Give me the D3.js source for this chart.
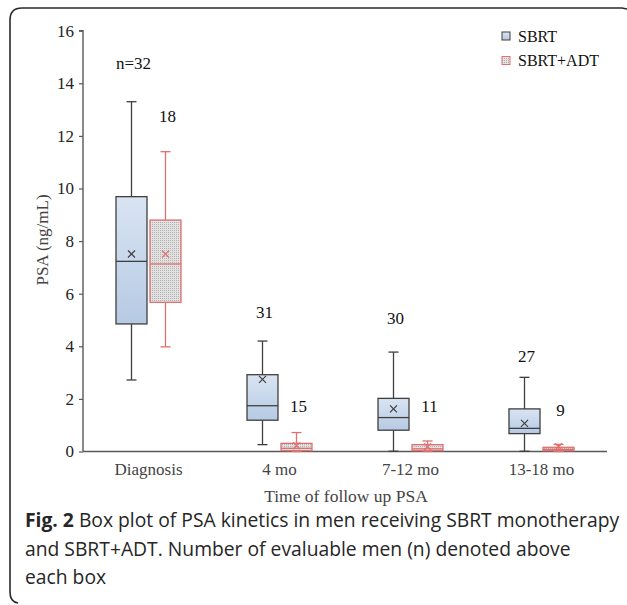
<!DOCTYPE html>
<html><head><meta charset="utf-8">
<script src="https://cdn.jsdelivr.net/npm/d3@7"></script>
<style>
html,body{margin:0;padding:0;background:#fff;}
svg{display:block;}
</style></head>
<body>
<svg id="chart" width="627" height="605"></svg>
<script>
// ---- data ----
const categories = ["Diagnosis", "4 mo", "7-12 mo", "13-18 mo"];
const seriesNames = ["SBRT", "SBRT+ADT"];
// [whiskerLow, q1, median, q3, whiskerHigh, mean]
const sbrtStats = [
  [2.72, 4.85, 7.23, 9.69, 13.3, 7.51],
  [0.26, 1.19, 1.74, 2.92, 4.2, 2.74],
  [0.01, 0.81, 1.29, 2.02, 3.78, 1.62],
  [0.01, 0.68, 0.88, 1.62, 2.82, 1.07]
];
const adtStats = [
  [3.98, 5.67, 7.13, 8.8, 11.4, 7.51],
  [0.0, 0.03, 0.12, 0.31, 0.72, 0.22],
  [0.0, 0.03, 0.1, 0.26, 0.4, 0.18],
  [0.0, 0.03, 0.08, 0.16, 0.27, 0.18]
];
const sbrtN = ["n=32", "31", "30", "27"];
const adtN = ["18", "15", "11", "9"];
const sbrtNLevel = [14.77, 5.32, 5.06, 3.64];
const adtNLevel = [12.76, 1.74, 1.73, 1.58];
const yTicks = [0, 2, 4, 6, 8, 10, 12, 14, 16];
const xTitle = "Time of follow up PSA";
const yTitle = "PSA (ng/mL)";
const captionLines = [
  ["Fig. 2", " Box plot of PSA kinetics in men receiving SBRT monotherapy"],
  ["", "and SBRT+ADT. Number of evaluable men (n) denoted above"],
  ["", "each box"]
];

(function () {
// ---- layout ----
const svg = d3.select("#chart");
const serif = "'Liberation Serif','Times New Roman',serif";
const pLeft = 83, pRight = 607, pTop = 30.7, pBottom = 451.5;

const x = d3.scaleBand().domain(categories).range([pLeft, pRight]).paddingInner(0).paddingOuter(0);
const y = d3.scaleLinear().domain([0, 16]).range([pBottom, pTop]);
const boxW = 31, off = 17;

// defs
const defs = svg.append("defs");
const grad = defs.append("linearGradient").attr("id", "blueGrad").attr("x1", 0).attr("y1", 0).attr("x2", 0).attr("y2", 1);
grad.append("stop").attr("offset", "0%").attr("stop-color", "#d9e4f2");
grad.append("stop").attr("offset", "100%").attr("stop-color", "#b6cae4");
const pat = defs.append("pattern").attr("id", "dots").attr("patternUnits", "userSpaceOnUse").attr("width", 2).attr("height", 2);
pat.append("rect").attr("width", 2).attr("height", 2).attr("fill", "#e2e2e2");
pat.append("rect").attr("width", 1).attr("height", 1).attr("fill", "#b0b0b0");

// frame
svg.append("path")
  .attr("d", "M627,9 L622,8 L22,8 Q10,8 10,20 L10,592 Q10,602 18,603")
  .attr("fill", "none").attr("stroke", "#2a2a2a").attr("stroke-width", 1.6);

// y axis
const yAxis = d3.axisLeft(y).tickValues(yTicks).tickSize(4).tickPadding(5);
const gy = svg.append("g").attr("transform", `translate(${pLeft},0)`).call(yAxis);
gy.select(".domain").attr("stroke", "#595959").attr("stroke-width", 1.4).attr("d", `M-4,${pTop}H0V${pBottom}`);
gy.selectAll(".tick line").attr("stroke", "#595959").attr("stroke-width", 1.2);
gy.selectAll(".tick text").attr("font-family", serif).attr("font-size", 17).attr("fill", "#222");

// x axis
const xAxis = d3.axisBottom(x).tickSize(0).tickPadding(11);
const gx = svg.append("g").attr("transform", `translate(0,${pBottom})`).call(xAxis);
gx.select(".domain").attr("stroke", "#595959").attr("stroke-width", 1.6).attr("d", `M${pLeft},0H${pRight}`);
gx.selectAll(".tick text").attr("font-family", serif).attr("font-size", 17).attr("fill", "#444");

// titles
svg.append("text").attr("x", 346).attr("y", 502).attr("text-anchor", "middle")
  .attr("font-family", serif).attr("font-size", 17.5).attr("fill", "#444").text(xTitle);
svg.append("text").attr("transform", `translate(48,${240}) rotate(-90)`).attr("text-anchor", "middle")
  .attr("font-family", serif).attr("font-size", 17).attr("fill", "#444").text(yTitle);

// boxes
function drawBoxes(stats, dx, fill, stroke, labels, levels) {
  const g = svg.append("g");
  stats.forEach((s, i) => {
    const cx = x(categories[i]) + x.bandwidth() / 2 + dx;
    const [lo, q1, med, q3, hi, mean] = s;
    const sw = 1.3;
    g.append("line").attr("x1", cx).attr("x2", cx).attr("y1", y(q3)).attr("y2", y(hi)).attr("stroke", stroke).attr("stroke-width", sw);
    g.append("line").attr("x1", cx).attr("x2", cx).attr("y1", y(q1)).attr("y2", y(lo)).attr("stroke", stroke).attr("stroke-width", sw);
    g.append("line").attr("x1", cx - 5).attr("x2", cx + 5).attr("y1", y(hi)).attr("y2", y(hi)).attr("stroke", stroke).attr("stroke-width", sw);
    g.append("line").attr("x1", cx - 5).attr("x2", cx + 5).attr("y1", y(lo)).attr("y2", y(lo)).attr("stroke", stroke).attr("stroke-width", sw);
    g.append("rect").attr("x", cx - boxW / 2).attr("y", y(q3)).attr("width", boxW).attr("height", Math.max(1, y(q1) - y(q3)))
      .attr("fill", fill).attr("stroke", stroke).attr("stroke-width", sw);
    g.append("line").attr("x1", cx - boxW / 2).attr("x2", cx + boxW / 2).attr("y1", y(med)).attr("y2", y(med)).attr("stroke", stroke).attr("stroke-width", sw);
    const my = y(mean), r = 3.5;
    g.append("path").attr("d", `M${cx - r},${my - r}L${cx + r},${my + r}M${cx - r},${my + r}L${cx + r},${my - r}`)
      .attr("stroke", stroke).attr("stroke-width", 1.2).attr("fill", "none");
    g.append("text").attr("x", cx + 2).attr("y", y(levels[i])).attr("dy", "0.35em")
      .attr("text-anchor", "middle").attr("font-family", serif).attr("font-size", 17).attr("fill", "#111").text(labels[i]);
  });
}
drawBoxes(sbrtStats, -off, "url(#blueGrad)", "#3f3f3f", sbrtN, sbrtNLevel);
drawBoxes(adtStats, off, "url(#dots)", "#e07070", adtN, adtNLevel);

// legend
const legend = svg.append("g");
const legItems = [
  { name: seriesNames[0], fill: "url(#blueGrad)", stroke: "#3f3f3f" },
  { name: seriesNames[1], fill: "url(#dots)", stroke: "#e07070" }
];
legItems.forEach((d, i) => {
  const ly = 36 + i * 24.5;
  legend.append("rect").attr("x", 502).attr("y", ly - 4).attr("width", 8).attr("height", 8)
    .attr("fill", d.fill).attr("stroke", d.stroke).attr("stroke-width", 1);
  legend.append("text").attr("x", 518).attr("y", ly).attr("dy", "0.35em")
    .attr("font-family", serif).attr("font-size", 16).attr("fill", "#111").text(d.name);
});

// caption
const cap = svg.append("g");
captionLines.forEach((ln, i) => {
  const t = cap.append("text").attr("x", 25).attr("y", 527 + i * 28.5)
    .attr("font-family", "'Open Sans',sans-serif").attr("font-size", 19.3).attr("fill", "#262626");
  if (ln[0]) t.append("tspan").attr("font-weight", "bold").text(ln[0]);
  t.append("tspan").text(ln[1]);
});
})();
</script>
</body></html>
